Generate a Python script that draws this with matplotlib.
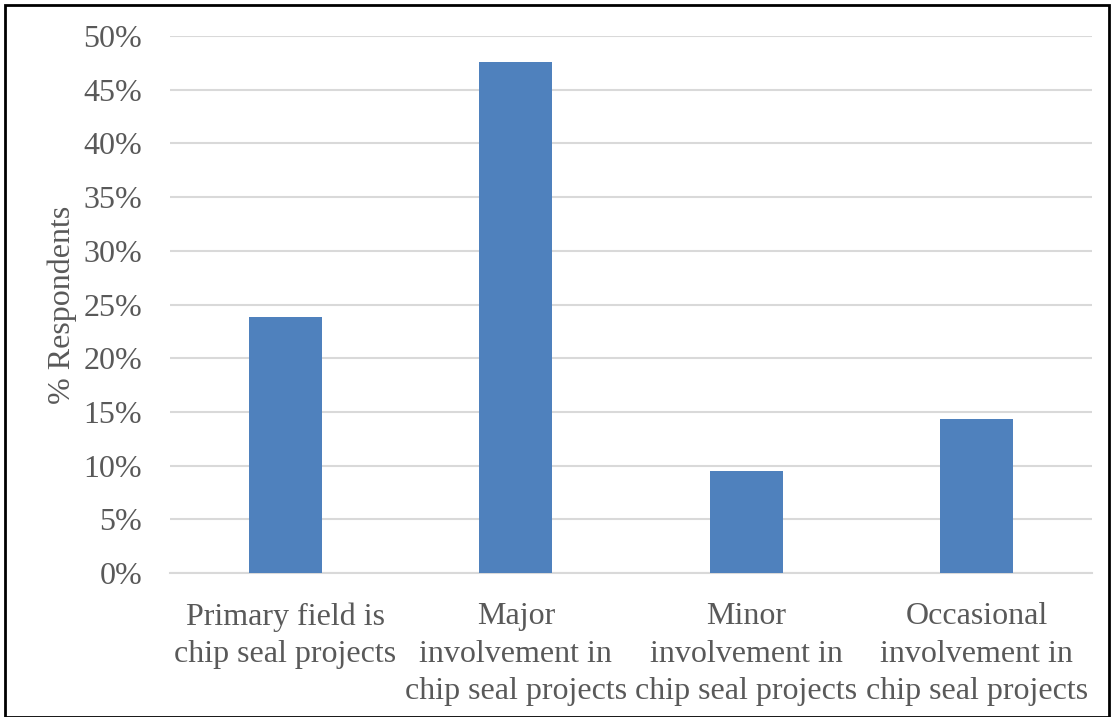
import matplotlib
matplotlib.use("Agg")
import matplotlib.pyplot as plt
from matplotlib.patches import Rectangle
from matplotlib.ticker import FuncFormatter, MultipleLocator

categories = ["Primary field is\nchip seal projects",
              "Major\ninvolvement in\nchip seal projects",
              "Minor\ninvolvement in\nchip seal projects",
              "Occasional\ninvolvement in\nchip seal projects"]
values = [23.8, 47.6, 9.5, 14.3]
y_label = "% Respondents"

plt.rcParams['font.family'] = ['Liberation Serif', 'DejaVu Serif']
txt = '#595959'

fig = plt.figure(figsize=(11.11, 7.17), dpi=100)
ax = fig.add_axes([170/1111, 1 - 573/717, (1092-170)/1111, (573-36)/717])

x = list(range(len(categories)))
ax.bar(x, values, width=0.317, color='#4F81BD', zorder=3)
ax.set_xlim(-0.5, len(categories) - 0.5)
ax.set_ylim(0, 50)
ax.yaxis.set_major_locator(MultipleLocator(5))
ax.yaxis.set_major_formatter(FuncFormatter(lambda v, p: f"{v:.0f}%"))
ax.grid(axis='y', color='#D9D9D9', linewidth=1.5, zorder=0)
ax.set_axisbelow(True)
for s in ['top', 'right', 'left']:
    ax.spines[s].set_visible(False)
ax.spines['bottom'].set_color('#D9D9D9')
ax.spines['bottom'].set_linewidth(1.5)
ax.set_xticks(x)
ax.set_xticklabels(categories, fontsize=23, color=txt, linespacing=1.38)
ax.tick_params(axis='x', length=0, pad=21)
ax.tick_params(axis='y', length=0, pad=20, labelsize=23, labelcolor=txt)
ax.set_ylabel(y_label, fontsize=23, color=txt)
ax.yaxis.set_label_coords((77 - 170) / 922, 0.5)

fig.patches.append(Rectangle((5/1111, 0), (1109-5)/1111, 1 - 5/717, transform=fig.transFigure,
                             fill=False, edgecolor='black', linewidth=2))

fig.savefig("out.png", dpi=100)
